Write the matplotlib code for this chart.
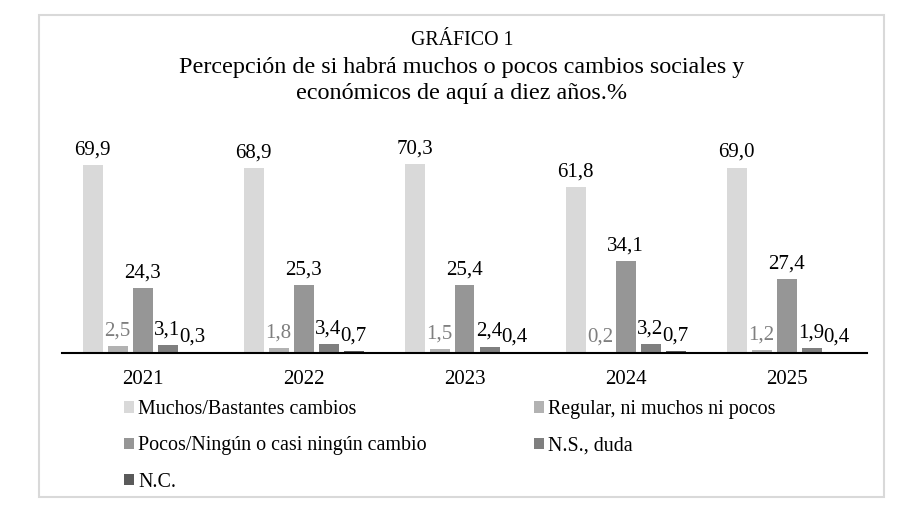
import numpy as np
import matplotlib.pyplot as plt
from matplotlib.patches import Rectangle

plt.rcParams['font.family'] = ['Liberation Serif', 'DejaVu Serif']

years = ["2021", "2022", "2023", "2024", "2025"]
muchos = [69.9, 68.9, 70.3, 61.8, 69.0]
regular = [2.5, 1.8, 1.5, 0.2, 1.2]
pocos = [24.3, 25.3, 25.4, 34.1, 27.4]
ns_duda = [3.1, 3.4, 2.4, 3.2, 1.9]
nc = [0.3, 0.7, 0.4, 0.7, 0.4]

series = [muchos, regular, pocos, ns_duda, nc]
names = ["Muchos/Bastantes cambios", "Regular, ni muchos ni pocos",
         "Pocos/Ningún o casi ningún cambio", "N.S., duda", "N.C."]
colors = ["#d9d9d9", "#b2b2b2", "#969696", "#7f7f7f", "#5a5a5a"]
label_colors = ["black", "#7f7f7f", "black", "black", "black"]

fig = plt.figure(figsize=(9.24, 5.05), dpi=100)
ax = fig.add_axes([62/924, 152/505, 805/924, 215/505])

x = np.arange(len(years))
step = 25/161
width = 20/161
handles = []
for j, vals in enumerate(series):
    pos = x + (j - 2) * step
    b = ax.bar(pos, vals, width=width, color=colors[j], label=names[j])
    handles.append(b)
    for p, v in zip(pos, vals):
        ax.annotate(f"{v:.1f}".replace(".", ","), (p, v), xytext=(0, 4),
                    textcoords="offset points", ha="center", va="bottom",
                    fontsize=15, color=label_colors[j])

ax.set_xlim(-0.5, 4.5)
ax.set_ylim(0, 80)
ax.set_xticks(x)
ax.set_xticklabels(years, fontsize=15)
ax.tick_params(axis="x", length=0, pad=12.5)
ax.set_yticks([])
for s in ["top", "left", "right"]:
    ax.spines[s].set_visible(False)
ax.spines["bottom"].set_linewidth(1.5)

# titles
fig.text(0.5, 1 - 45/505, "GRÁFICO 1", ha="center", va="baseline", fontsize=14.3)
fig.text(0.5, 1 - 73/505, "Percepción de si habrá muchos o pocos cambios sociales y",
         ha="center", va="baseline", fontsize=17.4)
fig.text(0.5, 1 - 99/505, "económicos de aquí a diez años.%",
         ha="center", va="baseline", fontsize=17.4)

order = [0, 2, 4, 1, 3]
fig.legend([handles[i] for i in order], [names[i] for i in order],
           loc="upper left", bbox_to_anchor=(124/924, 1 - 400/505), ncol=2,
           frameon=False, fontsize=14.4, handlelength=0.5, handleheight=0.5,
           handletextpad=0.2, labelspacing=0.87, columnspacing=5.35,
           borderpad=0, borderaxespad=0)

fig.patches.append(Rectangle((39/924, 8/505), 845/924, 482/505, transform=fig.transFigure,
                             fill=False, edgecolor="#d9d9d9", linewidth=1.5))

plt.savefig("out.png", dpi=100)
